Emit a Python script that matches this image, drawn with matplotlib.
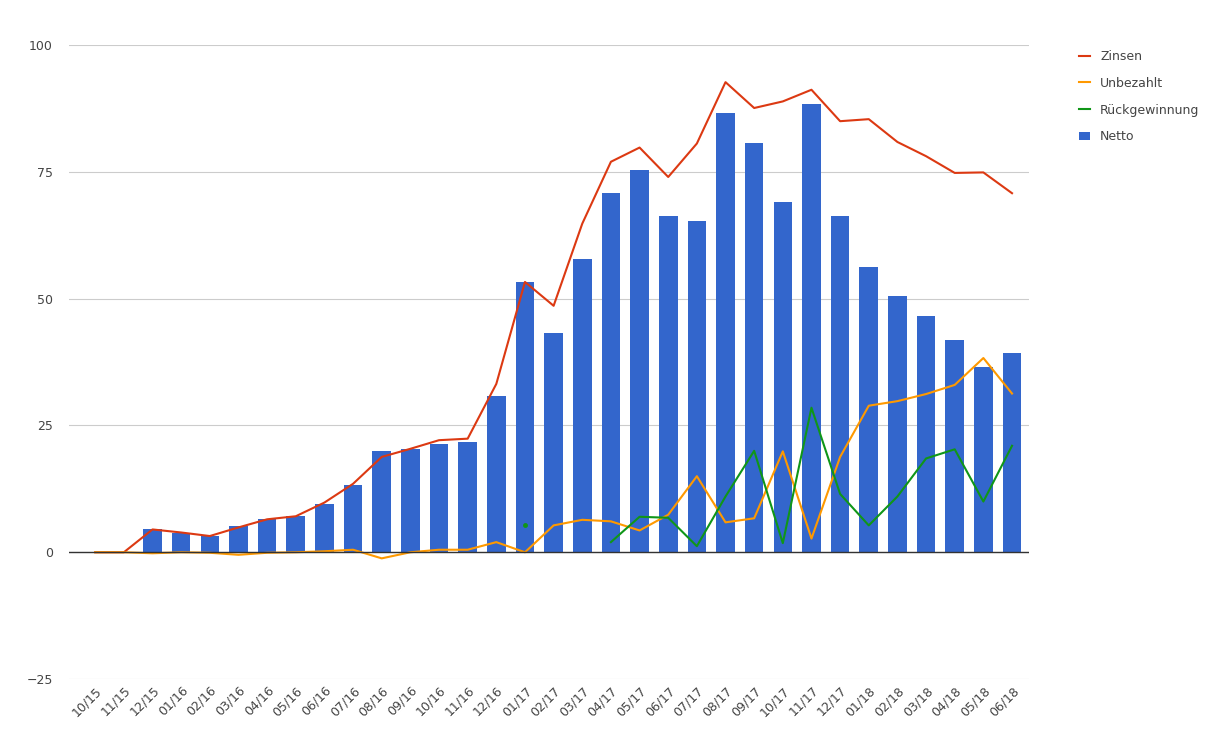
import numpy as np
import matplotlib.pyplot as plt

months = ["10/15", "11/15", "12/15", "01/16", "02/16", "03/16", "04/16", "05/16", "06/16",
          "07/16", "08/16", "09/16", "10/16", "11/16", "12/16", "01/17", "02/17", "03/17",
          "04/17", "05/17", "06/17", "07/17", "08/17", "09/17", "10/17", "11/17", "12/17",
          "01/18", "02/18", "03/18", "04/18", "05/18", "06/18"]
netto = [0, 0, 4.5, 3.8, 3.2, 5.1, 6.6, 7.1, 9.6, 13.2, 20, 20.3, 21.4, 21.8, 30.8, 53.3,
         43.2, 57.8, 70.9, 75.4, 66.4, 65.4, 86.6, 80.7, 69, 88.4, 66.4, 56.2, 50.6, 46.5,
         41.8, 36.5, 39.2]
zinsen = [0, 0, 4.5, 3.9, 3.2, 4.9, 6.5, 7.1, 9.8, 13.5, 18.8, 20.4, 22.1, 22.4, 33.2, 53.3,
          48.6, 64.8, 77, 79.8, 74, 80.6, 92.7, 87.6, 88.9, 91.2, 85, 85.4, 80.9, 78.1,
          74.8, 74.9, 70.8]
unbezahlt = [0, 0, -0.2, 0, -0.1, -0.5, -0.1, 0, 0.2, 0.5, -1.2, 0, 0.5, 0.5, 2, 0, 5.3,
             6.4, 6.1, 4.3, 7.4, 15, 5.9, 6.7, 19.9, 2.7, 18.8, 28.9, 29.8, 31.2, 33, 38.3, 31.3]
nan = np.nan
rueck = [nan] * 15 + [5.4, nan, nan, 2, 7, 6.8, 1.2, 11, 20, 1.8, 28.5, 11.5, 5.3, 11,
                      18.5, 20.3, 10, 21]

fig = plt.figure(figsize=(12.18, 7.52), dpi=100)
ax = fig.add_axes([0.057, 0.097, 0.788, 0.843])
x = np.arange(len(months))
ax.bar(x, netto, width=0.65, color="#3366cc", label="Netto", zorder=2)
ax.plot(x, zinsen, color="#dc3912", lw=1.5, label="Zinsen", zorder=3)
ax.plot(x, unbezahlt, color="#ff9900", lw=1.5, label="Unbezahlt", zorder=3)
ax.plot(x, rueck, color="#109618", lw=1.5, label="Rückgewinnung", zorder=3)
ax.plot(x[15], rueck[15], "o", color="#109618", ms=2.5, zorder=3)

ax.set_ylim(-25, 100)
ax.set_yticks([-25, 0, 25, 50, 75, 100])
ax.set_xlim(-0.9, len(months) - 0.4)
ax.set_xticks(x)
ax.set_xticklabels(months, rotation=45, ha="right", rotation_mode="anchor")
ax.grid(axis="y", color="#cccccc", lw=0.8, zorder=0)
ax.axhline(0, color="#333333", lw=1, zorder=4)
for s in ax.spines.values():
    s.set_visible(False)
ax.tick_params(length=0, labelsize=9, colors="#444444")
ax.tick_params(axis="y", pad=12)

ax.legend(loc="upper left", bbox_to_anchor=(1.04, 1.01), frameon=False, fontsize=9,
          handlelength=0.9, labelspacing=1.1, labelcolor="#444444")
fig.savefig("out.png")
